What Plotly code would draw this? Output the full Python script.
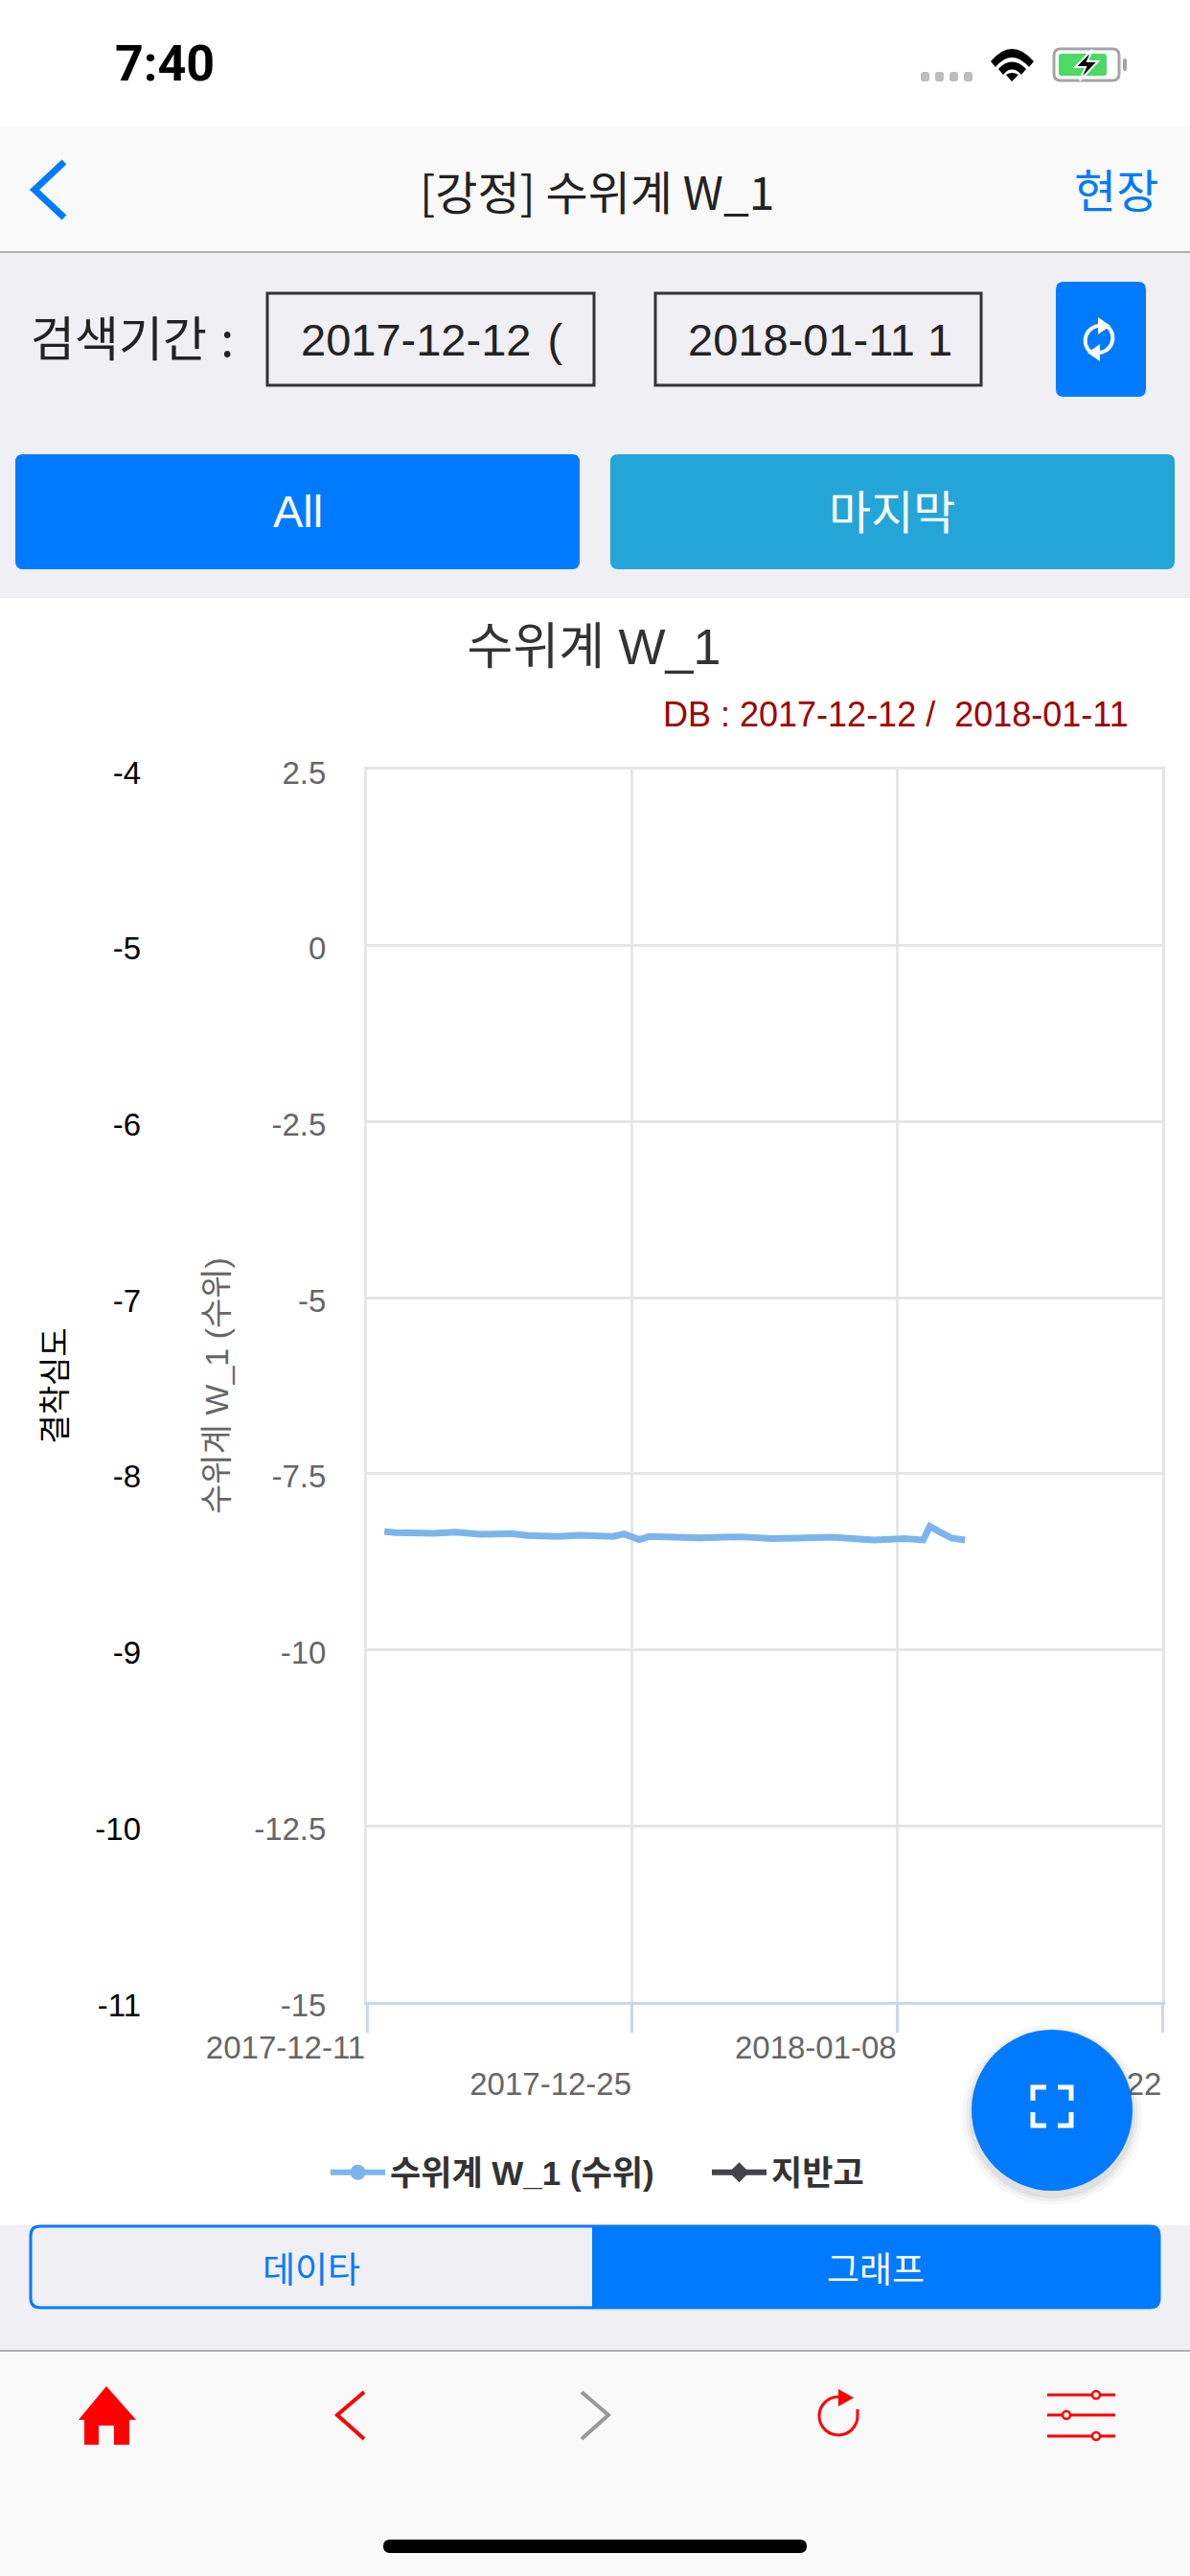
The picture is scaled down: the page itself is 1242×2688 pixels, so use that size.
import re
import plotly.graph_objects as go

# ---------- chart data ----------
SERIES_NAME = "수위계 W_1 (수위)"
GROUND_NAME = "지반고"
dates = ["2017-12-11 22:00", "2017-12-12 12:00", "2017-12-14 13:00", "2017-12-15 16:00", "2017-12-17 00:00",
         "2017-12-18 14:00", "2017-12-19 12:00", "2017-12-21 02:00", "2017-12-22 05:00", "2017-12-24 00:00",
         "2017-12-24 14:00", "2017-12-24 22:00", "2017-12-25 09:00", "2017-12-25 22:00", "2017-12-28 13:00",
         "2017-12-30 19:00", "2018-01-01 09:00", "2018-01-02 17:00", "2018-01-04 13:00", "2018-01-06 19:00",
         "2018-01-08 09:00", "2018-01-09 09:00", "2018-01-09 17:30", "2018-01-10 05:00", "2018-01-10 21:00",
         "2018-01-11 14:00"]
levels = [-8.32, -8.336, -8.345, -8.33, -8.36, -8.35, -8.377, -8.39, -8.372, -8.39,
          -8.354, -8.386, -8.436, -8.39, -8.409, -8.395, -8.42, -8.413, -8.40, -8.44,
          -8.42, -8.44, -8.245, -8.32, -8.413, -8.44]
x_ticks_row1 = ["2017-12-11", "2018-01-08"]
x_ticks_row2 = ["2017-12-25", "2018-01-22"]
x_range = ["2017-12-11", "2018-01-22"]
y_ticks_right = [2.5, 0, -2.5, -5, -7.5, -10, -12.5, -15]
y_labels_right = ["2.5", "0", "-2.5", "-5", "-7.5", "-10", "-12.5", "-15"]
y_ticks_left = [-4, -5, -6, -7, -8, -9, -10, -11]
y_labels_left = ["-4", "-5", "-6", "-7", "-8", "-9", "-10", "-11"]

W, H = 1242, 2688
LATIN = "Liberation Sans, Noto Sans CJK KR, sans-serif"
KR = "Noto Sans CJK KR, sans-serif"
BLUE = "#007AFF"
RED = "#FF0000"


def px(x):
    return x / W


def py(y):
    return 1 - y / H


def conv(d):
    out, i = [], 0
    for tok in re.findall(r"[A-Za-z]|-?\d+\.?\d*", d):
        if tok.isalpha():
            out.append(tok)
            i = 0
        else:
            out.append(f"{px(float(tok)):.5f}" if i % 2 == 0 else f"{py(float(tok)):.5f}")
            i += 1
    return " ".join(out)


shapes = []


def path(d, fill=None, line=None, lw=0, layer="above"):
    shapes.append(dict(type="path", xref="paper", yref="paper", path=conv(d), layer=layer,
                       fillcolor=fill or "rgba(0,0,0,0)",
                       line=dict(color=line or "rgba(0,0,0,0)", width=lw)))


def rect(x0, y0, x1, y1, fill=None, line=None, lw=0, layer="below"):
    shapes.append(dict(type="rect", xref="paper", yref="paper", x0=px(x0), x1=px(x1), y0=py(y0), y1=py(y1),
                       layer=layer, fillcolor=fill or "rgba(0,0,0,0)",
                       line=dict(color=line or "rgba(0,0,0,0)", width=lw)))


def rrect(x0, y0, x1, y1, r, fill=None, line=None, lw=0, layer="below"):
    d = (f"M {x0+r} {y0} L {x1-r} {y0} Q {x1} {y0} {x1} {y0+r} L {x1} {y1-r} Q {x1} {y1} {x1-r} {y1} "
         f"L {x0+r} {y1} Q {x0} {y1} {x0} {y1-r} L {x0} {y0+r} Q {x0} {y0} {x0+r} {y0} Z")
    path(d, fill, line, lw, layer)


def circle(cx, cy, r, fill=None, line=None, lw=0, layer="above"):
    shapes.append(dict(type="circle", xref="paper", yref="paper", x0=px(cx - r), x1=px(cx + r),
                       y0=py(cy + r), y1=py(cy - r), layer=layer, fillcolor=fill or "rgba(0,0,0,0)",
                       line=dict(color=line or "rgba(0,0,0,0)", width=lw)))


annotations = []


def text(x, y, s, size, color, anchor="center", family=KR):
    annotations.append(dict(xref="paper", yref="paper", x=px(x), y=py(y), text=s, showarrow=False,
                            xanchor=anchor, yanchor="middle", borderpad=0,
                            font=dict(size=size, color=color, family=family)))


# ---------- page chrome ----------
rect(0, 0, W, 132, "#FFFFFF")
rect(0, 132, W, 263, "#F9F9F9")
rect(0, 263, W, 624, "#EFEFF4")
rect(0, 262, W, 264, "#B2B2B2")
rect(0, 624, W, 2322, "#FFFFFF")
rect(0, 2322, W, 2453, "#EFEFF4")
rect(0, 2453, W, H, "#F9F9F9")
rect(0, 2452, W, 2454, "#B2B2B2")

# status bar
text(119, 67, "<b>7:40</b>", 52, "#000000", "left", "Roboto, sans-serif")
for bx in (961, 976, 991, 1006):
    rrect(bx, 75, bx + 9, 85, 3, "#BDBDBD", layer="above")
path("M 1034 64 Q 1056 38 1079 64 L 1074 70 Q 1056 50 1039 70 Z", "#000000")
path("M 1042 72 Q 1056 57 1071 72 L 1066 78 Q 1056 67 1047 78 Z", "#000000")
path("M 1050 78 Q 1056 74 1063 78 L 1056 85 Z", "#000000")
rrect(1100, 51, 1168, 84, 7, None, "#A5A5A5", 3, "above")
rrect(1105, 56, 1155, 79, 3, "#4CD964", layer="above")
rrect(1172, 61, 1176, 74, 2, "#A5A5A5", layer="above")
path("M 1140 52 L 1122 70 L 1133 70 L 1127 84 L 1146 64 L 1135 64 Z", "#000000", "#FFFFFF", 2)

# navigation bar
path("M 67 169 L 36 198 L 67 227", None, BLUE, 7)
text(623, 198, "[강정] 수위계 W_1", 48, "#222222")
text(1210, 196, "현장", 48, BLUE, "right")

# search row
text(31, 350, "검색기간 \u200a:", 50, "#222222", "left")
rect(279, 306, 620, 402, None, "#333333", 3)
rect(684, 306, 1024, 402, None, "#333333", 3)
text(313, 355, "2017-12-12\u200a (", 47, "#222222", "left", LATIN)
text(717, 355, "2018-01-11 1", 47, "#222222", "left", LATIN)
rrect(1102, 294, 1196, 414, 8, BLUE)
path("M 1151 340 C 1134 338 1126 358 1139 368", None, "#FFFFFF", 4)
path("M 1143 368 C 1160 370 1168 350 1155 340", None, "#FFFFFF", 4)
path("M 1146 331 L 1159 340 L 1146 349 Z", "#FFFFFF")
path("M 1148 359 L 1135 368 L 1148 377 Z", "#FFFFFF")

# buttons
rrect(16, 474, 605, 594, 8, BLUE)
rrect(637, 474, 1226, 594, 8, "#24A5D8")
text(311, 533, "All", 47, "#FFFFFF", family=LATIN)
text(931, 531, "마지막", 48, "#FFFFFF")

# segmented control
rrect(32, 2323, 1210, 2408, 10, None, BLUE, 3)
rrect(618, 2322, 1210, 2409, 8, BLUE)
rect(618, 2322, 640, 2409, BLUE)
text(325, 2366, "데이타", 37, BLUE)
text(914, 2366, "그래프", 37, "#FFFFFF")

# tool bar
path("M 111 2490 L 142 2525 L 135 2525 L 135 2551 L 119 2551 L 119 2531 L 103 2531 L 103 2551 L 88 2551 "
     "L 88 2525 L 82 2525 Z", RED)
path("M 380 2496 L 352 2520 L 380 2545", None, RED, 4)
path("M 607 2496 L 635 2520 L 607 2545", None, "#999999", 4)
path("M 875 2501 C 864 2501 855 2510 855 2521 C 855 2532 864 2541 875 2541 C 886 2541 895 2532 895 2521 L 895 2514",
     None, RED, 3)
path("M 875 2493 L 891 2502 L 875 2511 Z", RED)
for ly, kx in ((2499, 1144), (2520, 1113), (2542, 1144)):
    path(f"M 1093 {ly} L 1164 {ly}", None, RED, 3)
    circle(kx, ly, 4, "#F9F9F9", RED, 2.5)
rrect(400, 2650, 842, 2664, 7, "#000000", layer="above")

# floating action button
for grow, alpha in ((10, 0.03), (6, 0.04), (3, 0.05)):
    circle(1098, 2207, 84 + grow, f"rgba(0,0,0,{alpha})")
circle(1098, 2202, 84, BLUE)
for cx, cy, sx, sy in ((1078, 2178, 1, 1), (1118, 2178, -1, 1), (1078, 2218, 1, -1), (1118, 2218, -1, -1)):
    path(f"M {cx} {cy + 14 * sy} L {cx} {cy} L {cx + 14 * sx} {cy}", None, "#FFFFFF", 5)

# chart subtitle
text(1179, 745, "DB : 2017-12-12 /  2018-01-11", 36, "#A00000", "right", LATIN)

# ---------- chart ----------
fig = go.Figure()
fig.add_trace(go.Scatter(x=dates, y=levels, mode="lines", name=SERIES_NAME, showlegend=False,
                         line=dict(color="#7CB5EC", width=7), xaxis="x", yaxis="y"))
fig.add_trace(go.Scatter(x=[None], y=[None], mode="lines+markers", name=SERIES_NAME,
                         line=dict(color="#7CB5EC", width=6), marker=dict(symbol="circle", size=24, color="#7CB5EC"),
                         xaxis="x", yaxis="y"))
fig.add_trace(go.Scatter(x=[None], y=[None], mode="lines+markers", name=GROUND_NAME,
                         line=dict(color="#434348", width=6), marker=dict(symbol="diamond", size=26, color="#434348"),
                         xaxis="x3", yaxis="y2"))

x_common = dict(type="date", range=x_range, domain=[px(383), px(1213)], tickformat="%Y-%m-%d",
                showgrid=True, gridcolor="#E6E6E6", gridwidth=3,
                ticks="outside", ticklen=29, tickwidth=3, tickcolor="#CCD6EB",
                tickfont=dict(size=33, color="#666666", family=LATIN), ticklabelshift=-85, zeroline=False)

fig.update_layout(
    width=W, height=H, margin=dict(l=0, r=0, t=0, b=0, autoexpand=False),
    paper_bgcolor="#FFFFFF", plot_bgcolor="rgba(0,0,0,0)",
    title=dict(text="수위계 W_1", x=px(620), y=py(675), xref="paper", yref="paper", xanchor="center",
               yanchor="middle", font=dict(size=52, color="#333333", family=LATIN)),
    xaxis=dict(**x_common, tickvals=x_ticks_row1, ticklabelstandoff=-13, anchor="y",
               showline=True, linecolor="#E6E6E6", linewidth=3, mirror=True),
    xaxis3=dict(**x_common, tickvals=x_ticks_row2, ticklabelstandoff=25, overlaying="x", anchor="y2",
                showline=True, linecolor="#CCD6EB", linewidth=3),
    yaxis=dict(range=[-15, 2.5], domain=[py(2089), py(803)], tickvals=y_ticks_right, ticktext=y_labels_right,
               showgrid=True, gridcolor="#E6E6E6", gridwidth=3, zeroline=False,
               showline=True, linecolor="#E6E6E6", linewidth=3, mirror=True, ticks="", ticklabelstandoff=33,
               ticklabelshift=3, tickfont=dict(size=33, color="#666666", family=LATIN),
               title=dict(text=SERIES_NAME, standoff=17, font=dict(size=34, color="#666666", family=LATIN))),
    yaxis2=dict(range=[-11, -4], domain=[py(2089), py(803)], overlaying="y", anchor="free", position=px(147),
                side="left", tickvals=y_ticks_left, ticktext=y_labels_left, showgrid=False, zeroline=False,
                showline=False, ticks="", ticklabelshift=3, tickfont=dict(size=33, color="#000000", family=LATIN),
                title=dict(text="결착심도", standoff=18, font=dict(size=33, color="#000000", family=LATIN))),
    legend=dict(orientation="h", x=px(340), y=py(2267), xanchor="left", yanchor="middle", itemwidth=57,
                entrywidth=326, bgcolor="rgba(0,0,0,0)", itemclick=False, itemdoubleclick=False,
                font=dict(size=35, color="#333333", family=LATIN, weight=700)),
    shapes=shapes, annotations=annotations, showlegend=True, hovermode=False,
)

fig.write_html("out.html", config=dict(displayModeBar=False),
               post_script="document.body.style.margin='0';document.body.style.overflow='hidden';")
